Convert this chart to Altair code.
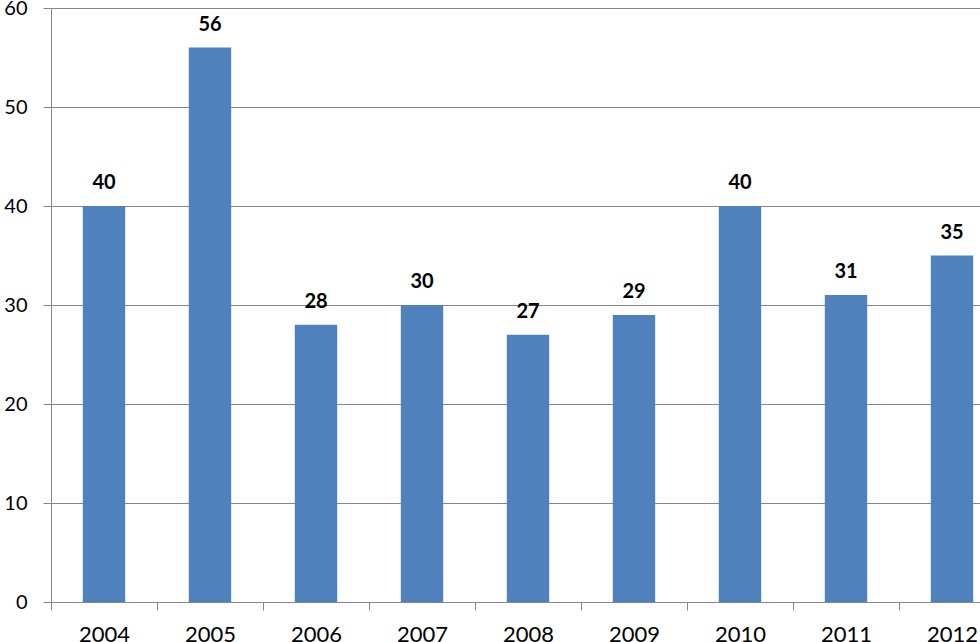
import altair as alt
import pandas as pd

years = [2004, 2005, 2006, 2007, 2008, 2009, 2010, 2011, 2012]
values = [40, 56, 28, 30, 27, 29, 40, 31, 35]
y_ticks = [0, 10, 20, 30, 40, 50, 60]

df = pd.DataFrame({"year": years, "value": values})

boundaries = [y - 0.5 for y in years]
x_domain = [years[0] - 0.5, years[0] - 0.5 + 929 / 106]

GRAY = "#868686"
FONT = "Lato"

x_scale = alt.Scale(domain=x_domain, nice=False, zero=False)
y_scale = alt.Scale(domain=[0, 60], nice=False)

base = alt.Chart(df).transform_calculate(
    x0="datum.year - 0.2", x1="datum.year + 0.2"
)

bars = base.mark_bar(color="#4F81BD").encode(
    x=alt.X(
        "x0:Q",
        scale=x_scale,
        axis=alt.Axis(
            values=boundaries,
            labelExpr="format(datum.value + 0.5, 'd')",
            labelOffset=53,
            labelFlush=False,
            labelOverlap=False,
            labelFont=FONT,
            labelFontSize=22,
            labelColor="#000000",
            labelPadding=14,
            tickSize=8,
            tickColor=GRAY,
            domainColor=GRAY,
            grid=False,
            title=None,
        ),
    ),
    x2="x1:Q",
    y=alt.Y(
        "value:Q",
        scale=y_scale,
        axis=alt.Axis(
            values=y_ticks,
            labelFont=FONT,
            labelFontSize=20,
            labelColor="#000000",
            labelPadding=16,
            tickSize=8,
            tickColor=GRAY,
            domainColor=GRAY,
            gridColor=GRAY,
            grid=True,
            title=None,
        ),
    ),
    y2=alt.datum(0),
)

labels = alt.Chart(df).mark_text(
    font=FONT, fontSize=20, fontWeight="bold", color="#000000",
    dy=-23, baseline="middle", align="center",
).encode(
    x=alt.X("year:Q", scale=x_scale),
    y=alt.Y("value:Q", scale=y_scale),
    text=alt.Text("value:Q"),
)

chart = alt.layer(bars, labels).properties(
    width=929,
    height=594,
    autosize=alt.AutoSizeParams(type="none"),
    padding={"left": 51, "top": 8, "right": 0, "bottom": 40},
    background="white",
).configure_view(strokeWidth=0)

chart.save("out.html", embed_options={"renderer": "svg", "actions": False})
